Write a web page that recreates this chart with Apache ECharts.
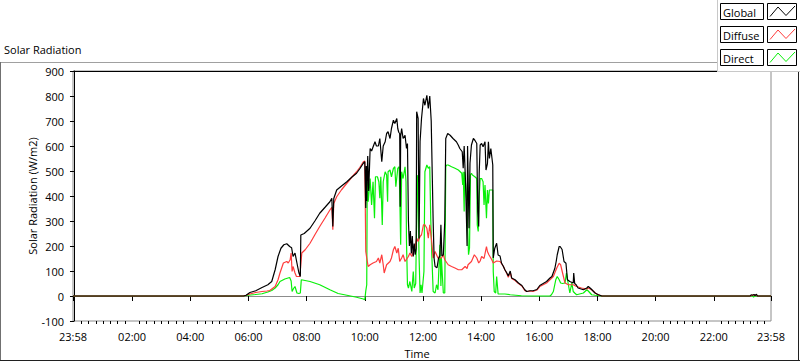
<!DOCTYPE html>
<html>
<head>
<meta charset="utf-8">
<script src="https://cdn.jsdelivr.net/npm/echarts@6.0.0/dist/echarts.min.js"></script>
<style>
html,body{margin:0;padding:0;background:#fff;}
#chart{width:800px;height:361px;}
</style>
</head>
<body>
<div id="chart"></div>
<script>
// ---- Data (time in minutes since 00:00; -2 = 23:58 of previous day) ----
const seriesNames = ['Global', 'Diffuse', 'Direct'];
const seriesColors = ['#000000', '#ff3c3c', '#08f008'];

const globalTime = [-2,350,355,363,375,388,400,408,415,421,427,433,439,445,449,452,456,460,464,467,468,475,487,497,507,518,528,532,534,536,542,552,563,573,583,590,597,600,602,603,604,606,608,611,614,617,621,624,628,631,635,638,642,645,648,652,655,659,662,666,668,670,672,673,674,676,679,683,686,688,690,692,694,696,698,700,702,704,706,707,710,712,714,717,721,724,728,731,734,737,739,741,743,745,749,752,755,757,759,762,765,767,771,776,782,789,793,796,801,803,805,808,810,811,812,815,817,820,824,827,831,833,835,836,838,841,844,848,850,853,855,857,860,864,865,868,872,875,879,882,886,889,893,896,900,903,910,917,924,930,934,941,947,955,961,968,975,982,986,992,995,997,1001,1003,1007,1011,1015,1018,1023,1030,1031,1033,1036,1040,1051,1058,1061,1066,1075,1082,1089,1395,1397,1400,1403,1405,1408,1410,1438];
const globalValue = [0,0,3,14,21,34,45,58,105,158,191,205,209,198,193,158,172,132,93,78,244,250,271,300,331,355,377,391,278,390,424,440,457,475,491,510,531,537,352,520,380,560,420,590,580,596,617,600,600,630,537,600,617,650,657,630,670,703,690,710,670,655,650,357,640,670,630,643,590,610,300,200,260,170,240,158,210,165,190,737,710,230,617,710,790,763,803,750,800,700,500,300,150,118,113,150,162,285,160,165,300,630,650,643,630,617,603,590,577,511,600,444,285,200,600,271,531,604,630,623,610,338,278,490,604,610,597,617,504,530,617,550,590,524,152,190,211,164,160,132,118,105,92,80,100,72,65,52,42,25,18,21,21,26,42,50,58,72,78,110,140,165,198,198,186,138,131,65,58,52,92,50,45,32,25,32,38,30,12,5,0,0,5,3,6,2,7,0,0];

const diffuseTime = [-2,350,355,363,375,388,398,404,415,421,425,432,439,442,446,448,450,452,456,459,466,470,477,487,497,507,518,528,532,534,536,542,552,563,573,583,590,597,600,602,604,607,611,617,624,628,631,635,638,640,645,652,655,659,662,666,669,672,676,679,683,690,693,697,700,703,707,710,714,717,721,724,728,731,734,738,741,745,751,758,762,765,772,779,786,793,800,807,811,813,820,826,831,835,838,841,846,851,853,856,862,865,872,879,886,889,893,896,900,903,910,917,924,930,934,941,947,955,961,968,975,982,989,996,1001,1004,1008,1013,1020,1030,1037,1047,1058,1061,1068,1078,1089,1395,1400,1405,1408,1410,1438];
const diffuseValue = [0,0,3,8,14,18,20,22,38,65,92,132,138,132,145,172,98,118,92,78,78,172,185,211,245,278,312,344,355,265,370,397,425,451,475,497,515,537,540,178,152,118,125,132,138,152,132,165,125,92,125,138,152,185,198,172,191,138,152,165,138,158,172,158,178,191,231,218,238,245,285,285,271,231,285,218,152,178,152,152,165,145,125,118,112,105,105,118,110,125,138,165,152,132,140,158,150,198,178,165,145,132,140,138,118,105,90,75,95,70,62,50,40,22,18,20,18,24,38,45,52,65,78,112,131,125,92,52,45,45,38,32,28,32,25,8,0,0,4,2,5,0,0];

const directTime = [-2,350,360,375,388,400,408,415,421,425,435,445,448,450,453,456,460,464,467,469,487,507,528,545,563,583,597,600,602,604,605,607,611,614,617,620,622,626,629,631,633,636,638,642,645,647,648,652,655,659,662,664,668,671,674,676,679,683,685,686,688,690,693,697,700,702,705,707,708,709,712,714,716,718,722,724,728,731,734,736,738,740,741,745,748,751,755,757,758,762,765,767,769,772,779,786,793,800,802,803,805,806,808,810,812,814,816,818,820,822,827,831,832,834,836,838,841,844,846,848,851,853,855,857,860,864,865,867,870,872,875,889,900,923,950,982,985,989,994,997,1001,1004,1008,1013,1016,1020,1023,1027,1030,1033,1037,1051,1058,1061,1068,1075,1089,1400,1402,1404,1438];
const directValue = [0,0,3,6,9,16,22,32,45,58,68,74,60,18,30,38,12,10,12,65,58,45,25,10,3,-5,-12,-15,20,45,457,377,470,364,457,311,477,477,457,391,477,284,457,497,484,377,497,504,477,510,517,437,510,517,205,497,470,517,457,218,45,32,58,18,98,32,50,311,484,470,152,12,45,12,98,497,524,511,517,311,178,72,18,12,45,25,205,40,152,12,12,517,524,524,517,511,504,491,444,497,338,497,444,391,284,165,191,484,491,484,477,470,284,258,400,470,470,457,364,444,311,424,370,424,424,424,98,18,12,78,8,8,5,1,0,0,5,18,65,78,65,52,50,52,92,45,12,52,18,12,5,12,25,20,5,3,0,0,-5,0,0];

// ---- Axis ticks ----
const xMajorTicks = [-2,120,240,360,480,600,720,840,960,1080,1200,1320,1438];
const xMinorTicks = [];
for (let m = 15; m < 1438; m += 15) { if (m % 120 !== 0) xMinorTicks.push(m); }
const yMin = -100, yMax = 900, yStep = 100;

function pairs(t, v) { return t.map((x, i) => [x, v[i]]); }
function fmtTime(v) {
  if (v < 0 || v >= 1438) return '23:58';
  const h = Math.floor(v / 60), m = v % 60;
  return String(h).padStart(2, '0') + ':' + String(m).padStart(2, '0');
}

const FONT = 'Open Sans';
const chart = echarts.init(document.getElementById('chart'), null, {renderer: 'svg'});

const legendGraphics = [];
legendGraphics.push({type:'rect', z:100, shape:{x:717, y:0, width:83, height:71}, style:{fill:'#fff'}});
legendGraphics.push({type:'line', z:101, shape:{x1:717.5, y1:0, x2:717.5, y2:72}, style:{stroke:'#c8c8c8', lineWidth:1}});
legendGraphics.push({type:'line', z:101, shape:{x1:717, y1:71.5, x2:800, y2:71.5}, style:{stroke:'#c8c8c8', lineWidth:1}});
seriesNames.forEach((n, i) => {
  const y0 = 3 + 23 * i;
  legendGraphics.push({type:'rect', z:102, shape:{x:720.5, y:y0 + 0.5, width:43, height:16}, style:{fill:'#fff', stroke:'#000', lineWidth:1}});
  legendGraphics.push({type:'text', z:103, x:723, y:y0 + 9, style:{text:n, font:'11px "' + FONT + '"', fill:'#000', verticalAlign:'middle', align:'left'}});
  legendGraphics.push({type:'rect', z:102, shape:{x:767.5, y:y0 + 0.5, width:29, height:16}, style:{fill:'#fff', stroke:'#000', lineWidth:1}});
  legendGraphics.push({type:'polyline', z:103, shape:{points:[[770, y0 + 13.5],[778, y0 + 4],[786, y0 + 12.5],[795, y0 + 3]]}, style:{stroke:seriesColors[i], lineWidth:1, fill:null}});
});
// outer frame
const frame = [
  {type:'line', z:90, shape:{x1:0, y1:62.5, x2:717, y2:62.5}, style:{stroke:'#a0a0a0', lineWidth:1}},
  {type:'line', z:90, shape:{x1:0.5, y1:62, x2:0.5, y2:361}, style:{stroke:'#707070', lineWidth:1}},
  {type:'line', z:90, shape:{x1:0, y1:360.5, x2:800, y2:360.5}, style:{stroke:'#202020', lineWidth:1}},
  {type:'line', z:90, shape:{x1:798.5, y1:72, x2:798.5, y2:361}, style:{stroke:'#202020', lineWidth:1}}
];

const axisText = {fontFamily: FONT, fontSize: 11, color: '#000'};

const order = [2, 1, 0]; // draw Direct, Diffuse, then Global on top
const dataSets = [pairs(globalTime, globalValue), pairs(diffuseTime, diffuseValue), pairs(directTime, directValue)];

chart.setOption({
  animation: false,
  backgroundColor: '#fff',
  title: {text: 'Solar Radiation', left: 4, top: 44, padding: 0,
          textStyle: {fontFamily: FONT, fontSize: 11, fontWeight: 'normal', color: '#000'}},
  grid: {left: 73, top: 71, width: 698, height: 250, show: true, borderColor: '#8c8c8c', borderWidth: 1,
         backgroundColor: '#fff', containLabel: false, outerBoundsMode: 'none'},
  xAxis: [
    {type: 'value', min: -2, max: 1438, position: 'bottom',
     axisLine: {show: true, lineStyle: {color: '#8c8c8c', width: 1}},
     axisTick: {show: true, customValues: xMajorTicks, length: 5, lineStyle: {color: '#000'}},
     axisLabel: Object.assign({customValues: xMajorTicks, formatter: fmtTime, margin: 10}, axisText),
     splitLine: {show: false},
     name: 'Time', nameLocation: 'middle', nameGap: 27, nameMoveOverlap: false,
     nameTextStyle: Object.assign({padding: [0, 10, 0, 0]}, axisText)},
    {type: 'value', min: -2, max: 1438, position: 'bottom',
     axisLine: {show: false},
     axisTick: {show: true, customValues: xMinorTicks, length: 3, lineStyle: {color: '#000'}},
     axisLabel: {show: false}, splitLine: {show: false}},
    {type: 'value', min: -2, max: 1438, position: 'top',
     axisLine: {show: true, lineStyle: {color: '#000', width: 1}},
     axisTick: {show: false}, axisLabel: {show: false}, splitLine: {show: false}}
  ],
  yAxis: {type: 'value', min: yMin, max: yMax, interval: yStep,
    axisLine: {show: true, lineStyle: {color: '#000', width: 1}},
    axisTick: {show: true, length: 4, lineStyle: {color: '#000'}},
    axisLabel: Object.assign({margin: 9}, axisText),
    splitLine: {show: false},
    name: 'Solar Radiation (W/m2)', nameLocation: 'middle', nameGap: 35, nameRotate: 90, nameMoveOverlap: false,
    nameTextStyle: axisText},
  series: order.map(i => ({
    name: seriesNames[i], type: 'line', xAxisIndex: 0, yAxisIndex: 0,
    data: dataSets[i], showSymbol: false, symbol: 'none', smooth: false,
    lineStyle: {color: seriesColors[i], width: 1.2}, itemStyle: {color: seriesColors[i]},
    emphasis: {disabled: true}
  })),
  graphic: frame.concat(legendGraphics)
});
</script>
</body>
</html>
